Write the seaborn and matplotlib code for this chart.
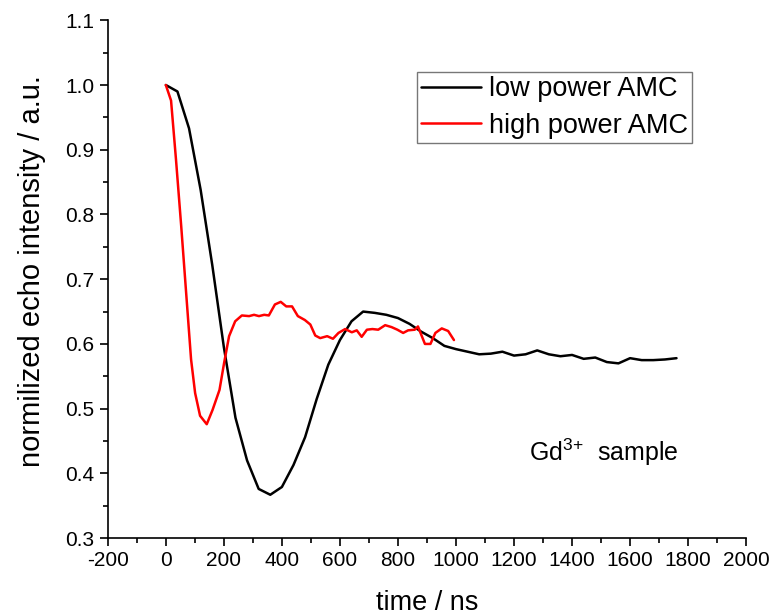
import numpy as np
import pandas as pd
import matplotlib
matplotlib.use("Agg")
import matplotlib.pyplot as plt
import seaborn as sns
from matplotlib.ticker import MultipleLocator, AutoMinorLocator, FormatStrFormatter

# ---- data ----
low_t = [0, 40, 80, 120, 160, 200, 240, 280, 320, 360, 400, 440, 480, 520, 560,
         600, 640, 680, 720, 760, 800, 840, 880, 920, 960, 1000, 1040, 1080, 1120,
         1160, 1200, 1240, 1280, 1320, 1360, 1400, 1440, 1480, 1520, 1560, 1600,
         1640, 1680, 1720, 1760]
low_y = [1.000, 0.990, 0.933, 0.838, 0.722, 0.595, 0.486, 0.420, 0.376, 0.367,
         0.379, 0.413, 0.456, 0.515, 0.568, 0.606, 0.635, 0.650, 0.648, 0.645,
         0.640, 0.631, 0.619, 0.609, 0.597, 0.592, 0.588, 0.584, 0.585, 0.588,
         0.582, 0.584, 0.590, 0.584, 0.581, 0.583, 0.577, 0.579, 0.572, 0.570,
         0.578, 0.575, 0.575, 0.576, 0.578]

high_t = [0, 18, 35, 53, 70, 87, 101, 118, 141, 161, 185, 201, 218, 239, 262,
          287, 304, 321, 339, 355, 376, 396, 415, 435, 455, 479, 498, 515, 532,
          556, 576, 595, 618, 641, 658, 675, 693, 712, 732, 756, 778, 798, 818,
          835, 858, 869, 893, 912, 929, 951, 973, 993]
high_y = [1.000, 0.976, 0.885, 0.782, 0.679, 0.576, 0.524, 0.489, 0.476, 0.498,
          0.529, 0.571, 0.612, 0.635, 0.644, 0.643, 0.645, 0.643, 0.645, 0.644,
          0.661, 0.665, 0.658, 0.658, 0.643, 0.637, 0.630, 0.613, 0.609, 0.612,
          0.608, 0.617, 0.623, 0.618, 0.621, 0.611, 0.622, 0.623, 0.622, 0.629,
          0.626, 0.622, 0.617, 0.621, 0.622, 0.627, 0.600, 0.600, 0.617, 0.624,
          0.620, 0.606]

series_names = ["low power AMC", "high power AMC"]
series_colors = ["#000000", "#ff0000"]

df = pd.concat([
    pd.DataFrame({"time": low_t, "val": low_y, "series": series_names[0]}),
    pd.DataFrame({"time": high_t, "val": high_y, "series": series_names[1]}),
], ignore_index=True)

sns.set_style("ticks")
plt.rcParams["font.family"] = ["Liberation Sans", "DejaVu Sans"]
plt.rcParams["mathtext.fontset"] = "custom"
plt.rcParams["mathtext.rm"] = "Liberation Sans"
plt.rcParams["mathtext.it"] = "Liberation Sans"
plt.rcParams["axes.unicode_minus"] = False
plt.rcParams["text.color"] = "black"
plt.rcParams["axes.labelcolor"] = "black"

fig = plt.figure(figsize=(7.7, 6.15), dpi=100)
ax = fig.add_axes([0.140, 0.125, 0.829, 0.842])

sns.lineplot(data=df, x="time", y="val", hue="series", hue_order=series_names,
             palette=series_colors, linewidth=1.8, ax=ax, sort=False,
             estimator=None)

ax.set_xlim(-200, 2000)
ax.set_ylim(0.3, 1.1)
ax.xaxis.set_major_locator(MultipleLocator(200))
ax.xaxis.set_minor_locator(AutoMinorLocator(2))
ax.yaxis.set_major_locator(MultipleLocator(0.1))
ax.yaxis.set_minor_locator(AutoMinorLocator(2))
ax.yaxis.set_major_formatter(FormatStrFormatter("%.1f"))
ax.tick_params(which="major", direction="out", length=6, width=1.2,
               labelsize=15, colors="black")
ax.tick_params(which="minor", direction="out", length=3.5, width=1.2,
               colors="black")
for s in ["top", "right"]:
    ax.spines[s].set_visible(False)
for s in ["left", "bottom"]:
    ax.spines[s].set_linewidth(1.2)
    ax.spines[s].set_color("black")

ax.set_xlabel("time / ns", fontsize=19.5, labelpad=14, color="black")
ax.set_ylabel("normilized echo intensity / a.u.", fontsize=21, color="black")
ax.yaxis.set_label_coords(-0.097, 0.515)

leg = ax.legend(loc="upper left", bbox_to_anchor=(0.485, 0.90),
                fontsize=19.5, frameon=True, fancybox=False,
                handlelength=2.2, handletextpad=0.3, borderpad=0.15,
                labelspacing=0.4, borderaxespad=0)
leg.get_frame().set_edgecolor("#555555")
leg.get_frame().set_linewidth(1.0)
for line in leg.get_lines():
    line.set_linewidth(1.8)
for t in leg.get_texts():
    t.set_color("black")

ax.text(1510, 0.433, "Gd$^{3{+}}$  sample", fontsize=18, ha="center",
        va="center", color="black")

fig.savefig("out.png", dpi=100)
